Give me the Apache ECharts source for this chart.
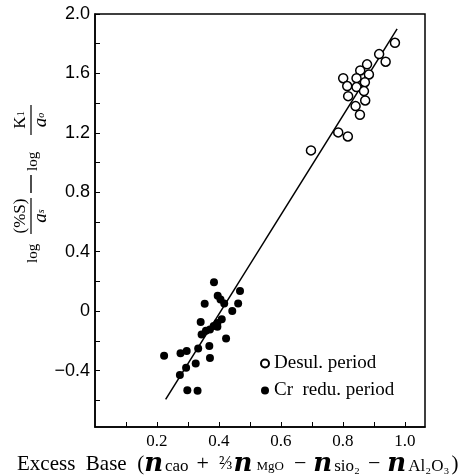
<!DOCTYPE html>
<html>
<head>
<meta charset="utf-8">
<script src="https://cdn.jsdelivr.net/npm/echarts@6/dist/echarts.min.js"></script>
<style>
  html, body { margin: 0; padding: 0; background: #fff; }
  #chart { width: 471px; height: 475px; }
</style>
</head>
<body>
<div id="chart"></div>
<script>
// open circles, desulphurisation period [excess base, log term]
var desulPeriod = [
  [0.968, 1.806], [0.917, 1.730], [0.938, 1.679], [0.878, 1.661],
  [0.856, 1.620], [0.884, 1.593], [0.801, 1.568], [0.844, 1.568],
  [0.871, 1.541], [0.814, 1.515], [0.844, 1.508], [0.868, 1.481],
  [0.817, 1.447], [0.872, 1.418], [0.841, 1.380], [0.855, 1.322],
  [0.785, 1.203], [0.816, 1.176], [0.697, 1.082]
];

// filled circles, Cr reduction period
var crReduPeriod = [
  [0.384, 0.195], [0.468, 0.136], [0.396, 0.103], [0.405, 0.079],
  [0.354, 0.049], [0.417, 0.052], [0.462, 0.052], [0.443, 0.000],
  [0.409, -0.054], [0.341, -0.074], [0.395, -0.080], [0.383, -0.100],
  [0.395, -0.106], [0.371, -0.123], [0.358, -0.132], [0.344, -0.157],
  [0.423, -0.184], [0.369, -0.235], [0.333, -0.251], [0.296, -0.269],
  [0.276, -0.284], [0.223, -0.300], [0.371, -0.316], [0.325, -0.352],
  [0.294, -0.381], [0.274, -0.430], [0.298, -0.533], [0.331, -0.536]
];

// regression line ends
var fitLine = [[0.228, -0.594], [0.975, 1.90]];

var xTickVals = [0.1, 0.2, 0.3, 0.4, 0.5, 0.6, 0.7, 0.8, 0.9, 1.0];
var xLabelVals = [0.2, 0.4, 0.6, 0.8, 1.0];
var yTickVals = [-0.6, -0.4, -0.2, 0, 0.2, 0.4, 0.6, 0.8, 1.0, 1.2, 1.4, 1.6, 1.8, 2.0];
var yLabelVals = [-0.4, 0, 0.4, 0.8, 1.2, 1.6, 2.0];

var serif = "'Liberation Serif', 'DejaVu Serif', serif";

var chart = echarts.init(document.getElementById("chart"));

var option = {
  animation: false,
  backgroundColor: "#fff",
  grid: {
    left: 95,
    right: 46,
    top: 14,
    bottom: 48,
    show: true,
    borderColor: "#000",
    borderWidth: 1.5,
  },
  legend: {
    orient: "vertical",
    left: 255,
    top: 349,
    itemGap: 8,
    itemWidth: 8,
    itemHeight: 8,
    textStyle: { fontFamily: serif, fontSize: 19, color: "#000" },
    data: [
      { name: "Desul. period", icon: "circle" },
      { name: "Cr  redu. period", icon: "circle" },
    ],
  },
  xAxis: {
    type: "value",
    min: 0,
    max: 1.065,
    splitLine: { show: false },
    axisLine: { onZero: false, lineStyle: { color: "#000", width: 1.5 } },
    axisTick: {
      inside: true,
      length: 5,
      customValues: xTickVals,
      lineStyle: { color: "#000" },
    },
    axisLabel: {
      customValues: xLabelVals,
      fontFamily: serif,
      fontSize: 17,
      color: "#000",
      margin: 6,
      formatter: function (v) {
        return v.toFixed(1);
      },
    },
  },
  yAxis: {
    type: "value",
    min: -0.78,
    max: 2.0,
    splitLine: { show: false },
    axisLine: { onZero: false, lineStyle: { color: "#000", width: 1.5 } },
    axisTick: {
      inside: true,
      length: 5,
      customValues: yTickVals,
      lineStyle: { color: "#000" },
    },
    axisLabel: {
      customValues: yLabelVals,
      fontFamily: "'Liberation Sans', sans-serif",
      fontSize: 18,
      color: "#000",
      margin: 5,
      formatter: function (v) {
        if (v === 0) return "0";
        return (v < 0 ? "\u2212" : "") + Math.abs(v).toFixed(1);
      },
    },
  },
  series: [
    {
      name: "fit",
      type: "line",
      data: fitLine,
      symbol: "none",
      lineStyle: { color: "#000", width: 1.5 },
      z: 1,
    },
    {
      name: "Desul. period",
      type: "scatter",
      data: desulPeriod,
      symbol: "circle",
      symbolSize: 9,
      itemStyle: { color: "#fff", borderColor: "#000", borderWidth: 1.5, opacity: 1 },
      z: 3,
    },
    {
      name: "Cr  redu. period",
      type: "scatter",
      data: crReduPeriod,
      symbol: "circle",
      symbolSize: 8,
      itemStyle: { color: "#000", opacity: 1 },
      z: 3,
    },
  ],
  graphic: [
    // x axis name
    {
      type: "text",
      left: 17,
      top: 451,
      style: {
        text:
          "{t|Excess  Base  (}{n|n}{s|cao}{o|+}{f|\u2154}{n|n}{m|MgO}{o|\u2212}{n|n}{s|sio\u2082}{o|\u2212}{n|n}{s|Al\u2082O\u2083}{t|)}",
        rich: {
          t: { fontFamily: serif, fontSize: 21, fill: "#000" },
          n: { fontFamily: "'DejaVu Serif', serif", fontSize: 26, fontStyle: "italic", fontWeight: "bold", fill: "#000" },
          s: { fontFamily: serif, fontSize: 17, fill: "#000", padding: [5, 2, 0, 2] },
          m: { fontFamily: serif, fontSize: 13, fill: "#000", padding: [6, 4, 0, 4] },
          o: { fontFamily: serif, fontSize: 22, fill: "#000", padding: [0, 7, 0, 6] },
          f: { fontFamily: serif, fontSize: 18, fill: "#000", padding: [0, 1, 0, 3] },
        },
      },
    },
    // y axis name, rotated so it reads bottom to top
    {
      type: "group",
      x: 31,
      y: 263,
      rotation: Math.PI / 2,
      children: [
        {
          type: "text",
          x: 0,
          y: 2,
          style: { text: "log", fontFamily: serif, fontSize: 15, fill: "#000", verticalAlign: "middle", align: "left" },
        },
        {
          type: "text",
          x: 47,
          y: -10,
          style: { text: "(%S)", fontFamily: serif, fontSize: 17, fill: "#000", verticalAlign: "middle", align: "center" },
        },
        {
          type: "line",
          shape: { x1: 29, y1: 0, x2: 65, y2: 0 },
          style: { stroke: "#000", lineWidth: 1.2 },
        },
        {
          type: "text",
          x: 47,
          y: 10,
          style: {
            text: "{a|a}{s|s}",
            align: "center",
            verticalAlign: "middle",
            rich: {
              a: { fontFamily: serif, fontSize: 19, fontStyle: "italic", fill: "#000" },
              s: { fontFamily: serif, fontSize: 10, fontStyle: "italic", fill: "#000" },
            },
          },
        },
        {
          type: "line",
          shape: { x1: 70, y1: 0, x2: 88, y2: 0 },
          style: { stroke: "#000", lineWidth: 1.4 },
        },
        {
          type: "text",
          x: 92,
          y: 2,
          style: { text: "log", fontFamily: serif, fontSize: 15, fill: "#000", verticalAlign: "middle", align: "left" },
        },
        {
          type: "text",
          x: 143,
          y: -10,
          style: {
            text: "{k|K}{o|1}",
            align: "center",
            verticalAlign: "middle",
            rich: {
              k: { fontFamily: serif, fontSize: 17, fill: "#000" },
              o: { fontFamily: serif, fontSize: 10, fill: "#000" },
            },
          },
        },
        {
          type: "line",
          shape: { x1: 128, y1: 0, x2: 158, y2: 0 },
          style: { stroke: "#000", lineWidth: 1.2 },
        },
        {
          type: "text",
          x: 143,
          y: 10,
          style: {
            text: "{a|a}{s|o}",
            align: "center",
            verticalAlign: "middle",
            rich: {
              a: { fontFamily: serif, fontSize: 19, fontStyle: "italic", fill: "#000" },
              s: { fontFamily: serif, fontSize: 10, fontStyle: "italic", fill: "#000" },
            },
          },
        },
      ],
    },
  ],
};

chart.setOption(option);
</script>
</body>
</html>
